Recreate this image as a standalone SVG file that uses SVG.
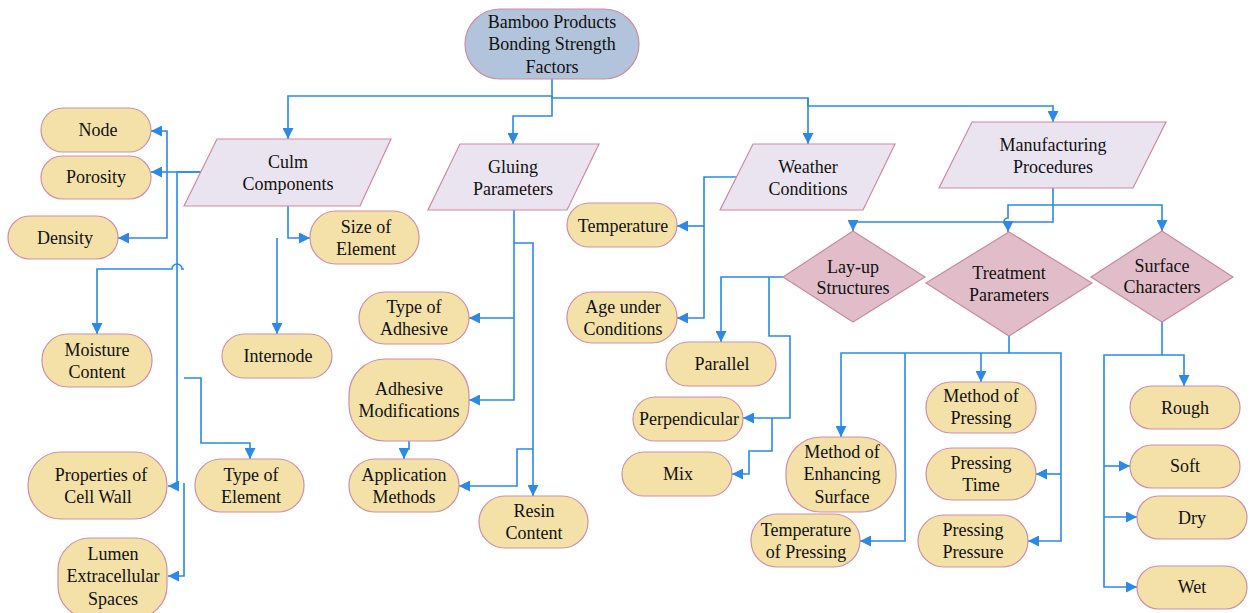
<svg xmlns="http://www.w3.org/2000/svg" width="1251" height="613" viewBox="0 0 1251 613" font-family="'Liberation Serif', 'DejaVu Serif', serif">
<defs>
<marker id="ah" markerUnits="userSpaceOnUse" markerWidth="11" markerHeight="11" refX="10" refY="5" orient="auto" viewBox="0 0 10 10">
<path d="M0,0 L10,5 L0,10 z" fill="#2a8ae6"/>
</marker>
<style>
.pill{fill:#f4e1a8;stroke:#cf8fa8;stroke-width:1.2}
.para{fill:#eae4f0;stroke:#cf8aa2;stroke-width:1.2}
.dia{fill:#e1bdca;stroke:#c98aa0;stroke-width:1.2}
.root{fill:#b1c4db;stroke:#cf8aa2;stroke-width:1.2}
text{font-family:'Liberation Serif',serif;font-size:18px;fill:#111;text-anchor:middle}
.c{fill:none;stroke:#2a8ae6;stroke-width:1.6}
.a{marker-end:url(#ah)}
</style>
</defs>
<rect width="1251" height="613" fill="#fff"/>

<g id="connectors">
<path class="c a" d="M552,79 V96 H288 V139"/>
<path class="c a" d="M552,96 V116 H513 V144"/>
<path class="c a" d="M552,96 V98 H808 V144"/>
<path class="c a" d="M808,98 V106 H1053 V122"/>

<path class="c a" d="M201,172 H167 V131 H151"/>
<path class="c a" d="M167,172 H151"/>
<path class="c a" d="M167,172 V238 H118"/>
<path class="c a" d="M201,172 H177 V486 H168"/>
<path class="c a" d="M184,269 H182 A5,5 0 0 0 172,269 H97 V334"/>
<path class="c a" d="M184,378 H201 V443 H250 V459"/>
<path class="c a" d="M184,483 V576 H168"/>
<path class="c a" d="M288,206 V238 H310"/>
<path class="c a" d="M277,238 V334"/>

<path class="c a" d="M514,210 V400 H469"/>
<path class="c a" d="M514,318 H469"/>
<path class="c a" d="M514,243 H533 V496"/>
<path class="c a" d="M533,449 H517 V486 H459"/>
<path class="c a" d="M409,441 V449 H404 V459"/>

<path class="c a" d="M737,177 H704 V318 H677"/>
<path class="c a" d="M704,226 H677"/>

<path class="c a" d="M1053,188 V222 H853 V231"/>
<path class="c a" d="M1053,205 H1008 V218 A4,4 0 0 0 1008,226 V232"/>
<path class="c a" d="M1053,205 H1162 V231"/>

<path class="c a" d="M783,277 H721 V342"/>
<path class="c a" d="M769,277 V336 H790 V418 H743"/>
<path class="c a" d="M772,418 V451 H749 V474 H732"/>

<path class="c a" d="M1009,336 V353 H841 V437"/>
<path class="c a" d="M905,353 V541 H860"/>
<path class="c a" d="M981,353 V382"/>
<path class="c a" d="M1009,353 H1061 V541 H1028"/>
<path class="c a" d="M1061,474 H1036"/>

<path class="c a" d="M1162,322 V355 H1184 V386"/>
<path class="c a" d="M1162,355 H1104 V587 H1137"/>
<path class="c a" d="M1104,466 H1130"/>
<path class="c a" d="M1104,517 H1137"/>
</g>

<g id="root"><rect class="root" x="465" y="9" width="174" height="70" rx="35"/><text x="552" y="28">Bamboo Products</text><text x="552" y="50">Bonding Strength</text><text x="552" y="73">Factors</text></g>

<g id="culm"><polygon class="para" points="217,139 391,139 360,206 184,206"/><text x="288" y="168">Culm</text><text x="288" y="190">Components</text></g>
<g id="gluing"><polygon class="para" points="460,144 599,144 567,210 428,210"/><text x="513" y="173">Gluing</text><text x="513" y="195">Parameters</text></g>
<g id="weather"><polygon class="para" points="753,144 895,144 863,210 720,210"/><text x="808" y="173">Weather</text><text x="808" y="195">Conditions</text></g>
<g id="manufacturing"><polygon class="para" points="972,122 1166,122 1133,188 939,188"/><text x="1053" y="151">Manufacturing</text><text x="1053" y="173">Procedures</text></g>

<g id="layup"><polygon class="dia" points="853,231 925,277 853,322 783,277"/><text x="853" y="273">Lay-up</text><text x="853" y="294">Structures</text></g>
<g id="treatment"><polygon class="dia" points="1009,232 1092,283 1009,336 926,283"/><text x="1009" y="279">Treatment</text><text x="1009" y="301">Parameters</text></g>
<g id="surface"><polygon class="dia" points="1162,231 1233,277 1162,322 1091,277"/><text x="1162" y="272">Surface</text><text x="1162" y="293">Characters</text></g>

<g id="node"><rect class="pill" x="41" y="108" width="110" height="44" rx="22"/><text x="98" y="136">Node</text></g>
<g id="porosity"><rect class="pill" x="41" y="156" width="110" height="43" rx="21.5"/><text x="96" y="183">Porosity</text></g>
<g id="density"><rect class="pill" x="8" y="216" width="110" height="43" rx="21.5"/><text x="65" y="244">Density</text></g>
<g id="size"><rect class="pill" x="310" y="211" width="109" height="53" rx="26"/><text x="366" y="233">Size of</text><text x="366" y="255">Element</text></g>
<g id="moisture"><rect class="pill" x="42" y="334" width="110" height="53" rx="26"/><text x="97" y="356">Moisture</text><text x="97" y="378">Content</text></g>
<g id="internode"><rect class="pill" x="222" y="334" width="110" height="44" rx="22"/><text x="278" y="362">Internode</text></g>
<g id="cellwall"><rect class="pill" x="28" y="452" width="139" height="67" rx="33"/><text x="101" y="481">Properties of</text><text x="98" y="503">Cell Wall</text></g>
<g id="typeelement"><rect class="pill" x="195" y="459" width="109" height="53" rx="26"/><text x="251" y="481">Type of</text><text x="251" y="503">Element</text></g>
<g id="lumen"><rect class="pill" x="58" y="538" width="109" height="80" rx="32"/><text x="113" y="560">Lumen</text><text x="113" y="582">Extracellular</text><text x="113" y="605">Spaces</text></g>

<g id="typeadhesive"><rect class="pill" x="359" y="292" width="110" height="52" rx="26"/><text x="414" y="313">Type of</text><text x="414" y="335">Adhesive</text></g>
<g id="adhmod"><rect class="pill" x="349" y="359" width="120" height="82" rx="36"/><text x="409" y="395">Adhesive</text><text x="409" y="417">Modifications</text></g>
<g id="application"><rect class="pill" x="349" y="459" width="110" height="53" rx="26"/><text x="404" y="481">Application</text><text x="404" y="503">Methods</text></g>
<g id="resin"><rect class="pill" x="479" y="496" width="109" height="52" rx="26"/><text x="534" y="517">Resin</text><text x="534" y="539">Content</text></g>

<g id="temperature"><rect class="pill" x="567" y="203" width="110" height="44" rx="22"/><text x="623" y="232">Temperature</text></g>
<g id="age"><rect class="pill" x="567" y="292" width="110" height="51" rx="25"/><text x="623" y="313">Age under</text><text x="623" y="335">Conditions</text></g>

<g id="parallel"><rect class="pill" x="666" y="342" width="110" height="44" rx="22"/><text x="722" y="370">Parallel</text></g>
<g id="perpendicular"><rect class="pill" x="633" y="397" width="110" height="44" rx="22"/><text x="689" y="425">Perpendicular</text></g>
<g id="mix"><rect class="pill" x="622" y="452" width="110" height="44" rx="22"/><text x="678" y="480">Mix</text></g>

<g id="enhancing"><rect class="pill" x="786" y="437" width="110" height="75" rx="35"/><text x="842" y="458">Method of</text><text x="842" y="480">Enhancing</text><text x="842" y="503">Surface</text></g>
<g id="temppressing"><rect class="pill" x="751" y="514" width="109" height="53" rx="26"/><text x="806" y="536">Temperature</text><text x="806" y="558">of Pressing</text></g>
<g id="methodpressing"><rect class="pill" x="926" y="382" width="110" height="51" rx="25"/><text x="981" y="402">Method of</text><text x="981" y="424">Pressing</text></g>
<g id="pressingtime"><rect class="pill" x="926" y="448" width="110" height="52" rx="26"/><text x="981" y="469">Pressing</text><text x="981" y="491">Time</text></g>
<g id="pressingpressure"><rect class="pill" x="918" y="515" width="110" height="52" rx="26"/><text x="973" y="536">Pressing</text><text x="973" y="558">Pressure</text></g>

<g id="rough"><rect class="pill" x="1130" y="386" width="110" height="43" rx="21.5"/><text x="1185" y="414">Rough</text></g>
<g id="soft"><rect class="pill" x="1130" y="445" width="110" height="43" rx="21.5"/><text x="1185" y="472">Soft</text></g>
<g id="dry"><rect class="pill" x="1137" y="496" width="110" height="43" rx="21.5"/><text x="1192" y="524">Dry</text></g>
<g id="wet"><rect class="pill" x="1137" y="566" width="110" height="43" rx="21.5"/><text x="1192" y="593">Wet</text></g>
</svg>
